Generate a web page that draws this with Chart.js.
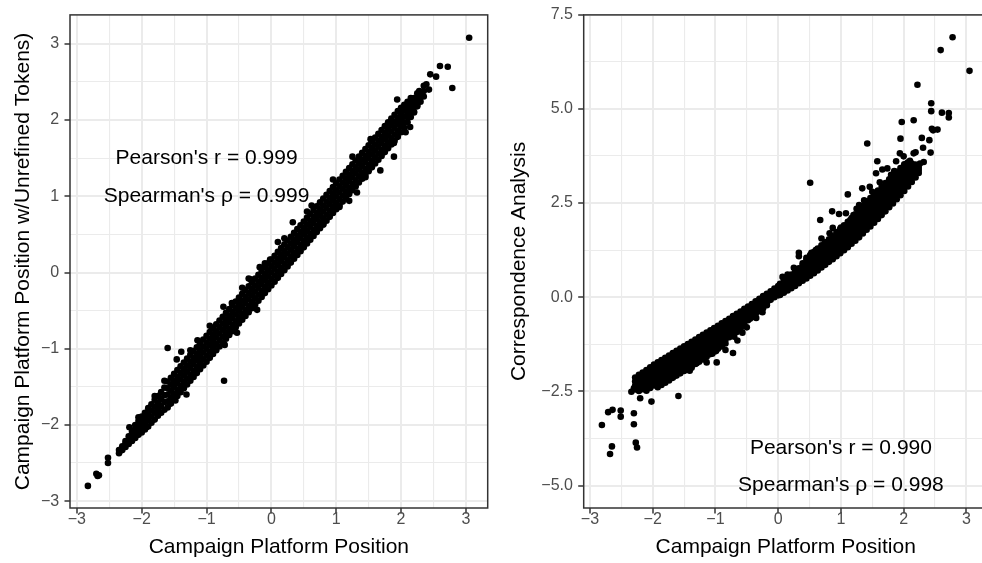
<!DOCTYPE html>
<html>
<head>
<meta charset="utf-8">
<script src="https://cdn.jsdelivr.net/npm/chart.js@4.4.1/dist/chart.umd.min.js"></script>
<style>
  body { margin: 0; background: #fff; overflow: hidden; }
  #wrap { position: relative; width: 982px; height: 563px; overflow: hidden; }
  canvas { position: absolute; top: 0; }
</style>
</head>
<body>
<div id="wrap">
  <canvas id="left" width="491" height="563" style="left:0"></canvas>
  <canvas id="right" width="500" height="563" style="left:491px"></canvas>
</div>
<script>
// left panel: each row is [x, y, y, ...]
const leftBand = [
  [-2.35, -2.37, -2.33], [-2.30, -2.33, -2.28], [-2.25, -2.29, -2.24, -2.21], [-2.20, -2.25, -2.20, -2.15],
  [-2.15, -2.21, -2.15, -2.09], [-2.10, -2.17, -2.11, -2.05, -2.00], [-2.05, -2.13, -2.07, -2.01, -1.95],
  [-2.00, -2.10, -2.03, -1.96, -1.89], [-1.95, -2.06, -1.98, -1.91, -1.84], [-1.90, -2.02, -1.94, -1.86, -1.78],
  [-1.85, -1.97, -1.89, -1.81, -1.73], [-1.80, -1.93, -1.84, -1.76, -1.67], [-1.75, -1.88, -1.79, -1.71, -1.62],
  [-1.70, -1.84, -1.75, -1.66, -1.57], [-1.65, -1.80, -1.70, -1.61, -1.51],
  [-1.60, -1.77, -1.69, -1.60, -1.52, -1.43], [-1.55, -1.72, -1.64, -1.55, -1.47, -1.38],
  [-1.50, -1.67, -1.59, -1.50, -1.42, -1.33], [-1.45, -1.62, -1.54, -1.45, -1.37, -1.28],
  [-1.40, -1.57, -1.49, -1.40, -1.32, -1.23], [-1.35, -1.52, -1.44, -1.35, -1.27, -1.18],
  [-1.30, -1.47, -1.39, -1.30, -1.22, -1.13], [-1.25, -1.42, -1.34, -1.25, -1.17, -1.08],
  [-1.20, -1.37, -1.29, -1.20, -1.12, -1.03], [-1.15, -1.32, -1.24, -1.15, -1.07, -0.98],
  [-1.10, -1.27, -1.19, -1.10, -1.02, -0.93], [-1.05, -1.22, -1.14, -1.05, -0.97, -0.88],
  [-1.00, -1.17, -1.09, -1.00, -0.92, -0.83], [-0.95, -1.12, -1.04, -0.95, -0.87, -0.78],
  [-0.90, -1.07, -0.99, -0.90, -0.82, -0.73], [-0.85, -1.02, -0.94, -0.85, -0.77, -0.68],
  [-0.80, -0.97, -0.89, -0.80, -0.72, -0.63], [-0.75, -0.92, -0.84, -0.75, -0.67, -0.58],
  [-0.70, -0.87, -0.79, -0.70, -0.62, -0.53], [-0.65, -0.82, -0.74, -0.65, -0.57, -0.48],
  [-0.60, -0.77, -0.69, -0.60, -0.52, -0.43], [-0.55, -0.72, -0.64, -0.55, -0.47, -0.38],
  [-0.50, -0.67, -0.59, -0.50, -0.42, -0.33], [-0.45, -0.62, -0.54, -0.45, -0.37, -0.28],
  [-0.40, -0.57, -0.49, -0.40, -0.32, -0.23], [-0.35, -0.52, -0.44, -0.35, -0.27, -0.18],
  [-0.30, -0.47, -0.39, -0.30, -0.22, -0.13], [-0.25, -0.42, -0.34, -0.25, -0.17, -0.08],
  [-0.20, -0.37, -0.29, -0.20, -0.12, -0.03], [-0.15, -0.32, -0.24, -0.15, -0.07, 0.02],
  [-0.10, -0.27, -0.19, -0.10, -0.02, 0.07], [-0.05, -0.22, -0.14, -0.05, 0.03, 0.12],
  [0.00, -0.17, -0.09, 0.00, 0.08, 0.17], [0.05, -0.12, -0.04, 0.05, 0.13, 0.22],
  [0.10, -0.07, 0.01, 0.10, 0.18, 0.27], [0.15, -0.02, 0.06, 0.15, 0.23, 0.32],
  [0.20, 0.03, 0.11, 0.20, 0.28, 0.37], [0.25, 0.08, 0.16, 0.25, 0.33, 0.42],
  [0.30, 0.13, 0.21, 0.30, 0.38, 0.47], [0.35, 0.18, 0.26, 0.35, 0.43, 0.52],
  [0.40, 0.23, 0.31, 0.40, 0.48, 0.57], [0.45, 0.28, 0.36, 0.45, 0.53, 0.62],
  [0.50, 0.33, 0.41, 0.50, 0.58, 0.67], [0.55, 0.38, 0.46, 0.55, 0.63, 0.72],
  [0.60, 0.43, 0.51, 0.60, 0.68, 0.77], [0.65, 0.48, 0.56, 0.65, 0.73, 0.82],
  [0.70, 0.53, 0.61, 0.70, 0.78, 0.87], [0.75, 0.58, 0.66, 0.75, 0.83, 0.92],
  [0.80, 0.63, 0.71, 0.80, 0.88, 0.97], [0.85, 0.68, 0.76, 0.85, 0.93, 1.02],
  [0.90, 0.73, 0.81, 0.90, 0.98, 1.07], [0.95, 0.78, 0.86, 0.95, 1.03, 1.12],
  [1.00, 0.83, 0.91, 1.00, 1.08, 1.17], [1.05, 0.88, 0.96, 1.05, 1.13, 1.22],
  [1.10, 0.93, 1.01, 1.10, 1.18, 1.27], [1.15, 0.98, 1.06, 1.15, 1.23, 1.32],
  [1.20, 1.03, 1.11, 1.20, 1.28, 1.37], [1.25, 1.08, 1.16, 1.25, 1.33, 1.42],
  [1.30, 1.13, 1.21, 1.30, 1.38, 1.47], [1.35, 1.18, 1.26, 1.35, 1.43, 1.52],
  [1.40, 1.23, 1.31, 1.40, 1.48, 1.57], [1.45, 1.28, 1.36, 1.45, 1.53, 1.62],
  [1.50, 1.33, 1.41, 1.50, 1.58, 1.67], [1.55, 1.38, 1.46, 1.55, 1.63, 1.72],
  [1.60, 1.43, 1.51, 1.60, 1.68, 1.77], [1.65, 1.48, 1.56, 1.65, 1.73, 1.82],
  [1.70, 1.53, 1.61, 1.70, 1.78, 1.87], [1.75, 1.58, 1.66, 1.75, 1.83, 1.92],
  [1.80, 1.63, 1.71, 1.80, 1.88, 1.97], [1.85, 1.68, 1.76, 1.85, 1.93, 2.02],
  [1.90, 1.73, 1.81, 1.90, 1.98, 2.07], [1.95, 1.78, 1.86, 1.95, 2.03, 2.12],
  [2.00, 1.84, 1.92, 2.00, 2.08, 2.16], [2.05, 1.90, 1.97, 2.05, 2.13, 2.20],
  [2.10, 1.97, 2.04, 2.11, 2.18, 2.24], [2.15, 2.04, 2.10, 2.16, 2.23, 2.29],
  [2.20, 2.11, 2.17, 2.23, 2.29], [2.25, 2.18, 2.24, 2.30, 2.35], [2.30, 2.24, 2.30, 2.36], [2.35, 2.31, 2.38]
];
const leftSpread = [
  [-2.83, -2.80], [-2.70, -2.64], [-2.66, -2.66], [-2.68, -2.67], [-2.52, -2.43], [-2.52, -2.50],
  [-1.60, -0.99], [-1.39, -1.04], [-1.46, -1.14], [-0.73, -1.42], [-1.31, -1.60], [-0.74, -0.45],
  [-0.22, -0.49], [-0.72, -0.95], [-0.53, -0.79], [-0.61, -0.40], [-0.32, -0.09], [-1.14, -0.89],
  [-1.48, -1.68], [-1.57, -1.72], [-1.73, -1.83], [-1.93, -2.03], [-2.19, -2.03], [-1.65, -1.42],
  [-2.05, -1.90], [-1.80, -1.62], [-1.25, -1.02], [-0.95, -0.70], [-0.45, -0.20], [-0.10, 0.12],
  [-0.35, -0.08], [-0.18, 0.07], [-0.02, 0.17], [0.10, 0.40], [0.20, 0.45], [0.55, 0.80],
  [0.80, 0.63], [1.05, 0.86], [0.62, 0.88], [0.95, 1.22], [1.25, 1.52], [1.45, 1.25],
  [3.05, 3.08], [2.79, 2.42], [2.72, 2.70], [2.60, 2.71], [2.54, 2.57], [2.45, 2.60],
  [2.43, 2.40], [2.39, 2.47], [1.94, 2.27], [1.89, 1.52], [1.68, 1.34], [1.32, 1.05],
  [1.20, 0.94], [2.07, 1.84], [1.89, 1.70], [2.14, 1.91], [0.33, 0.66], [1.53, 1.75],
  [2.31, 2.34], [2.35, 2.45], [2.28, 2.38], [2.20, 2.10], [2.25, 2.20], [1.85, 1.95], [1.70, 1.58]
];

// right panel: dense curve rows [x, y, y, ...] and the scattered points
const rightBand = [
  [-2.28, -2.13, -2.24, -2.35, -2.45], [-2.22, -2.06, -2.17, -2.28, -2.39, -2.49],
  [-2.16, -2.00, -2.11, -2.22, -2.33, -2.44], [-2.10, -1.93, -2.04, -2.15, -2.26, -2.37, -2.48],
  [-2.04, -1.86, -1.97, -2.08, -2.19, -2.30, -2.41], [-1.98, -1.79, -1.90, -2.01, -2.12, -2.23, -2.34],
  [-1.92, -1.73, -1.84, -1.95, -2.06, -2.17, -2.28, -2.39], [-1.86, -1.67, -1.78, -1.89, -2.00, -2.11, -2.22, -2.33],
  [-1.80, -1.61, -1.72, -1.83, -1.94, -2.05, -2.16, -2.27], [-1.74, -1.55, -1.66, -1.77, -1.88, -1.99, -2.10, -2.21],
  [-1.68, -1.48, -1.59, -1.70, -1.81, -1.92, -2.03, -2.14], [-1.62, -1.42, -1.53, -1.64, -1.75, -1.86, -1.97, -2.08],
  [-1.56, -1.36, -1.47, -1.58, -1.69, -1.80, -1.91, -2.02], [-1.50, -1.30, -1.41, -1.52, -1.63, -1.74, -1.85, -1.96],
  [-1.44, -1.24, -1.35, -1.46, -1.57, -1.68, -1.79, -1.90], [-1.38, -1.18, -1.29, -1.40, -1.51, -1.62, -1.73, -1.84],
  [-1.32, -1.12, -1.23, -1.34, -1.45, -1.56, -1.67, -1.77], [-1.26, -1.06, -1.17, -1.28, -1.39, -1.50, -1.61, -1.71],
  [-1.20, -1.00, -1.11, -1.22, -1.33, -1.44, -1.55, -1.65], [-1.14, -0.94, -1.05, -1.16, -1.27, -1.38, -1.48, -1.58],
  [-1.08, -0.88, -0.99, -1.10, -1.21, -1.31, -1.41, -1.51], [-1.02, -0.82, -0.93, -1.04, -1.15, -1.25, -1.35, -1.44],
  [-0.96, -0.76, -0.87, -0.98, -1.08, -1.18, -1.28, -1.37], [-0.90, -0.69, -0.80, -0.91, -1.01, -1.11, -1.21, -1.30],
  [-0.84, -0.63, -0.74, -0.85, -0.95, -1.04, -1.13], [-0.78, -0.57, -0.68, -0.78, -0.88, -0.97, -1.06],
  [-0.72, -0.50, -0.61, -0.71, -0.81, -0.90, -0.99], [-0.66, -0.44, -0.55, -0.65, -0.74, -0.83, -0.92],
  [-0.60, -0.38, -0.49, -0.58, -0.67, -0.76, -0.84], [-0.54, -0.31, -0.42, -0.51, -0.60, -0.68, -0.76],
  [-0.48, -0.25, -0.35, -0.44, -0.53, -0.61], [-0.42, -0.18, -0.28, -0.37, -0.46, -0.53],
  [-0.36, -0.11, -0.21, -0.30, -0.38, -0.45], [-0.30, -0.04, -0.14, -0.23, -0.31, -0.37],
  [-0.24, 0.03, -0.07, -0.16, -0.23, -0.29], [-0.18, 0.09, 0.00, -0.09, -0.15, -0.21],
  [-0.12, 0.16, 0.07, -0.02, -0.07], [-0.06, 0.23, 0.14, 0.05, 0.00], [0.00, 0.30, 0.21, 0.12, 0.05],
  [0.03, 0.06, 0.16, 0.26, 0.36], [0.09, 0.12, 0.22, 0.32, 0.43], [0.15, 0.18, 0.28, 0.38, 0.48, 0.52],
  [0.21, 0.24, 0.34, 0.44, 0.54, 0.60], [0.27, 0.30, 0.40, 0.50, 0.60, 0.68], [0.33, 0.37, 0.47, 0.57, 0.67, 0.77],
  [0.39, 0.44, 0.54, 0.64, 0.74, 0.84, 0.90], [0.45, 0.50, 0.60, 0.70, 0.80, 0.90, 0.99],
  [0.51, 0.57, 0.67, 0.77, 0.87, 0.97, 1.07, 1.12], [0.57, 0.64, 0.74, 0.84, 0.94, 1.04, 1.14, 1.20],
  [0.63, 0.71, 0.81, 0.91, 1.01, 1.11, 1.21, 1.29], [0.69, 0.79, 0.89, 0.99, 1.09, 1.19, 1.29, 1.38],
  [0.75, 0.86, 0.96, 1.06, 1.16, 1.26, 1.36, 1.46], [0.81, 0.94, 1.04, 1.14, 1.24, 1.34, 1.44, 1.54],
  [0.87, 1.01, 1.11, 1.21, 1.31, 1.41, 1.51, 1.62], [0.93, 1.09, 1.19, 1.29, 1.39, 1.49, 1.59, 1.69, 1.73],
  [0.99, 1.17, 1.27, 1.37, 1.47, 1.57, 1.67, 1.77, 1.82], [1.05, 1.25, 1.35, 1.45, 1.55, 1.65, 1.75, 1.85, 1.91],
  [1.11, 1.33, 1.43, 1.53, 1.63, 1.73, 1.83, 1.93, 2.00], [1.17, 1.42, 1.52, 1.62, 1.72, 1.82, 1.92, 2.02, 2.10],
  [1.23, 1.50, 1.61, 1.72, 1.83, 1.94, 2.05, 2.15, 2.20], [1.29, 1.59, 1.70, 1.81, 1.92, 2.03, 2.14, 2.25, 2.31],
  [1.35, 1.69, 1.80, 1.91, 2.02, 2.13, 2.24, 2.35, 2.42], [1.41, 1.79, 1.90, 2.01, 2.12, 2.23, 2.34, 2.45, 2.53],
  [1.47, 1.88, 1.99, 2.10, 2.21, 2.32, 2.43, 2.54, 2.63], [1.53, 1.98, 2.09, 2.20, 2.31, 2.42, 2.53, 2.64, 2.73],
  [1.59, 2.08, 2.19, 2.30, 2.41, 2.52, 2.63, 2.74, 2.83], [1.65, 2.18, 2.29, 2.40, 2.51, 2.62, 2.73, 2.84, 2.93],
  [1.71, 2.28, 2.39, 2.50, 2.61, 2.72, 2.83, 2.94, 3.03], [1.77, 2.39, 2.50, 2.61, 2.72, 2.83, 2.94, 3.05, 3.13],
  [1.83, 2.49, 2.60, 2.71, 2.82, 2.93, 3.04, 3.15, 3.23], [1.89, 2.60, 2.71, 2.82, 2.93, 3.04, 3.15, 3.26, 3.33],
  [1.95, 2.71, 2.82, 2.93, 3.04, 3.15, 3.26, 3.37, 3.43], [2.01, 2.82, 2.93, 3.04, 3.15, 3.26, 3.37, 3.48, 3.53],
  [2.07, 2.94, 3.05, 3.16, 3.27, 3.38, 3.49, 3.58], [2.13, 3.06, 3.16, 3.26, 3.36, 3.46, 3.55],
  [2.19, 3.18, 3.27, 3.36, 3.45, 3.52], [2.24, 3.30, 3.38, 3.46]
];
const rightSpread = [
  [2.78, 6.90], [2.59, 6.56], [3.05, 6.01], [2.22, 5.64], [2.44, 5.15], [2.44, 4.94], [2.61, 4.90],
  [2.72, 4.89], [2.72, 4.77], [1.97, 4.65], [2.16, 4.70], [2.45, 4.47], [2.54, 4.45], [2.47, 4.43],
  [1.95, 4.21], [2.29, 4.23], [2.41, 4.17], [1.42, 4.08], [2.31, 3.97], [2.43, 3.84], [1.94, 3.82],
  [2.16, 3.82], [2.19, 3.85], [1.88, 3.61], [1.58, 3.61], [2.00, 3.74], [2.32, 3.59], [1.74, 3.42],
  [1.66, 3.39], [1.56, 3.29], [0.51, 3.04], [1.34, 2.89], [1.46, 2.93], [1.11, 2.73], [1.29, 2.45],
  [1.37, 2.57], [0.86, 2.28], [0.97, 2.21], [1.08, 2.23], [0.67, 2.05], [1.20, 2.18], [0.87, 1.84],
  [0.82, 1.70], [0.69, 1.56], [0.33, 1.18], [0.33, 1.09], [0.53, 1.18], [0.07, 0.54],
  [1.25, 2.35], [1.50, 2.80], [1.62, 3.05], [1.80, 3.25], [2.05, 3.55], [2.10, 3.62], [1.85, 3.35],
  [1.40, 2.55], [1.15, 2.05], [1.00, 1.85], [0.75, 1.45], [0.60, 1.25], [0.45, 1.05], [0.25, 0.78],
  [0.15, 0.60], [2.26, 3.55], [2.12, 3.45],
  [-2.81, -3.39], [-2.68, -4.16], [-2.65, -3.96], [-2.71, -3.05], [-2.64, -2.99], [-2.51, -3.01],
  [-2.51, -3.17], [-2.30, -3.08], [-2.30, -3.37], [-2.27, -3.86], [-2.25, -3.99], [-2.34, -2.51],
  [-2.30, -2.42], [-2.20, -2.68], [-2.02, -2.77], [-1.59, -2.62], [-1.38, -1.87], [-1.14, -1.73],
  [-0.98, -1.73], [-0.84, -1.40], [-0.72, -1.48], [-0.84, -1.23], [-0.57, -0.94], [-0.99, -1.43],
  [-1.10, -1.51], [-1.41, -1.95], [-1.83, -2.13], [-1.70, -2.10], [-0.19, -0.17], [-0.45, -0.57],
  [-2.16, -2.21], [-1.68, -2.12], [-0.42, -0.45], [-1.90, -2.30], [-1.75, -2.15], [-1.55, -1.95],
  [-1.30, -1.75], [-1.25, -1.62], [-1.05, -1.50], [-0.90, -1.30], [-0.70, -1.05], [-0.65, -1.15],
  [-0.50, -0.80], [-0.35, -0.55], [-0.25, -0.40], [-2.10, -2.45], [-1.45, -1.85], [-1.20, -1.55]
];

// axes
const xMajor = [-3, -2, -1, 0, 1, 2, 3];
const xMinor = [-2.5, -1.5, -0.5, 0.5, 1.5, 2.5];
const leftYMajor = [-3, -2, -1, 0, 1, 2, 3];
const leftYMinor = [-2.5, -1.5, -0.5, 0.5, 1.5, 2.5];
const rightYMajor = [-5, -2.5, 0, 2.5, 5, 7.5];
const rightYMinor = [-3.75, -1.25, 1.25, 3.75, 6.25];

const xTitle = "Campaign Platform Position";
const leftYTitle = "Campaign Platform Position w/Unrefined Tokens)";
const rightYTitle = "Correspondence Analysis";

const leftNotes = [
  { x: -1, y: 1.5, text: "Pearson's r = 0.999" },
  { x: -1, y: 1.0, text: "Spearman's \u03C1 = 0.999" }
];
const rightNotes = [
  { x: 1, y: -4, text: "Pearson's r = 0.990" },
  { x: 1, y: -5, text: "Spearman's \u03C1 = 0.998" }
];

const FONT = '"Liberation Sans", Arial, Helvetica, sans-serif';

function toPoints(rows, spread) {
  const pts = [];
  rows.forEach(r => {
    for (let i = 1; i < r.length; i++) pts.push({ x: r[0], y: r[i] });
  });
  spread.forEach(p => pts.push({ x: p[0], y: p[1] }));
  return pts;
}

const minus = s => s.replace('-', '\u2212');

function scaleOpts(range, major, minor, fmt, title, isX, titlePad, size, tickPad) {
  return {
    type: 'linear',
    min: range[0],
    max: range[1],
    afterBuildTicks: s => {
      s.ticks = major.concat(minor).sort((a, b) => a - b).map(v => ({ value: v }));
    },
    afterFit: s => {
      if (isX) s.height = size; else s.width = size;
    },
    ticks: {
      autoSkip: false,
      maxRotation: 0,
      minRotation: 0,
      padding: tickPad,
      color: '#4D4D4D',
      font: { family: FONT, size: 16 },
      callback: v => major.includes(v) ? minus(fmt(v)) : ''
    },
    grid: {
      color: '#EBEBEB',
      lineWidth: c => (c.tick && major.includes(c.tick.value)) ? 2 : 1.1,
      tickLength: 5.5,
      tickWidth: 1.5,
      tickColor: c => (c.tick && major.includes(c.tick.value)) ? '#333333' : 'rgba(0,0,0,0)'
    },
    border: { display: false },
    title: {
      display: true,
      text: title,
      color: '#000',
      font: { family: FONT, size: 21 },
      padding: titlePad
    }
  };
}

const panelPlugin = {
  id: 'panel',
  afterDatasetsDraw(chart, args, opts) {
    const { ctx, scales, chartArea: a } = chart;
    ctx.save();
    ctx.font = '21px ' + FONT;
    ctx.fillStyle = '#000';
    ctx.textAlign = 'center';
    ctx.textBaseline = 'middle';
    opts.notes.forEach(n => {
      ctx.fillText(n.text, scales.x.getPixelForValue(n.x), scales.y.getPixelForValue(n.y));
    });
    ctx.strokeStyle = '#333333';
    ctx.lineWidth = 1.5;
    ctx.strokeRect(a.left, a.top, a.right - a.left, a.bottom - a.top);
    ctx.restore();
  }
};

function makeChart(id, points, xRange, yRange, yMajor, yMinor, yFmt, yTitle, yWidth, yTitlePad, notes, rightPad) {
  return new Chart(document.getElementById(id), {
    type: 'scatter',
    data: {
      datasets: [{
        data: points,
        backgroundColor: '#000',
        borderWidth: 0,
        pointRadius: 3.3,
        pointHoverRadius: 3.3
      }]
    },
    options: {
      responsive: false,
      animation: false,
      devicePixelRatio: 1,
      layout: { padding: { top: 13, right: rightPad, left: 0, bottom: 0 } },
      plugins: {
        legend: { display: false },
        tooltip: { enabled: false },
        panel: { notes: notes }
      },
      scales: {
        x: scaleOpts(xRange, xMajor, xMinor, v => String(v), xTitle, true, { top: 0, bottom: 3 }, 55, -4),
        y: scaleOpts(yRange, yMajor, yMinor, yFmt, yTitle, false, { top: yTitlePad, bottom: 0 }, yWidth, 5.3)
      }
    },
    plugins: [panelPlugin]
  });
}

makeChart('left', toPoints(leftBand, leftSpread), [-3.106, 3.336], [-3.09, 3.38],
  leftYMajor, leftYMinor, v => String(v), leftYTitle, 70, 11, leftNotes, 1);

makeChart('right', toPoints(rightBand, rightSpread), [-3.10, 3.34], [-5.595, 7.495],
  rightYMajor, rightYMinor, v => v.toFixed(1), rightYTitle, 92.7, 15.4, rightNotes, 1);
</script>
</body>
</html>
